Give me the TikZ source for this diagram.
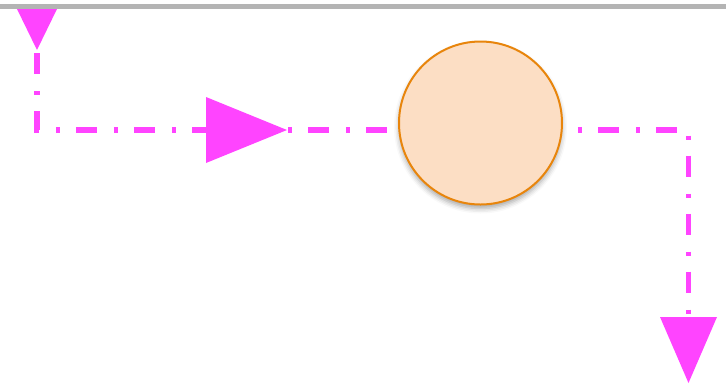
\documentclass[tikz,border=0pt]{standalone}
\usetikzlibrary{shadows.blur}
\definecolor{flow}{HTML}{FF44FF}
\definecolor{discfill}{HTML}{FCDEC4}
\definecolor{discline}{HTML}{E8850C}
\definecolor{rule}{HTML}{B4B4B4}
\tikzset{
  flowline/.style={draw=flow, line width=5.5pt,
    dash pattern=on 21pt off 17pt on 4pt off 16pt, dash phase=55pt},
  marker/.style={fill=flow, draw=none},
  disc/.style={circle, draw=discline, fill=discfill, line width=2pt,
    minimum size=163pt, inner sep=0pt,
    blur shadow={shadow xshift=0pt, shadow yshift=-4pt,
      shadow blur radius=5pt, shadow opacity=35}}
}
\begin{document}
\begin{tikzpicture}[x=1pt, y=-1pt]
  \useasboundingbox (0,0) rectangle (726,384);
  % top rule
  \draw[rule, line width=5pt] (0,6.5) -- (726,6.5);
  % route corners
  \coordinate (start) at (37,50);
  \coordinate (cornerA) at (37,130);
  \coordinate (cornerB) at (688.5,130);
  \coordinate (finish) at (688.5,317);
  \draw[flowline] (start) -- (cornerA) -- (cornerB) -- (finish);
  % arrow markers
  \fill[marker] (17,9) -- (57,9) -- (start) -- cycle;
  \fill[marker] (206,97) -- (287,130) -- (206,163) -- cycle;
  \fill[marker] (660,317) -- (717,317) -- (688.5,383) -- cycle;
  % disc sitting on the route
  \node[disc] (ball) at (480.5,123) {};
\end{tikzpicture}
\end{document}
